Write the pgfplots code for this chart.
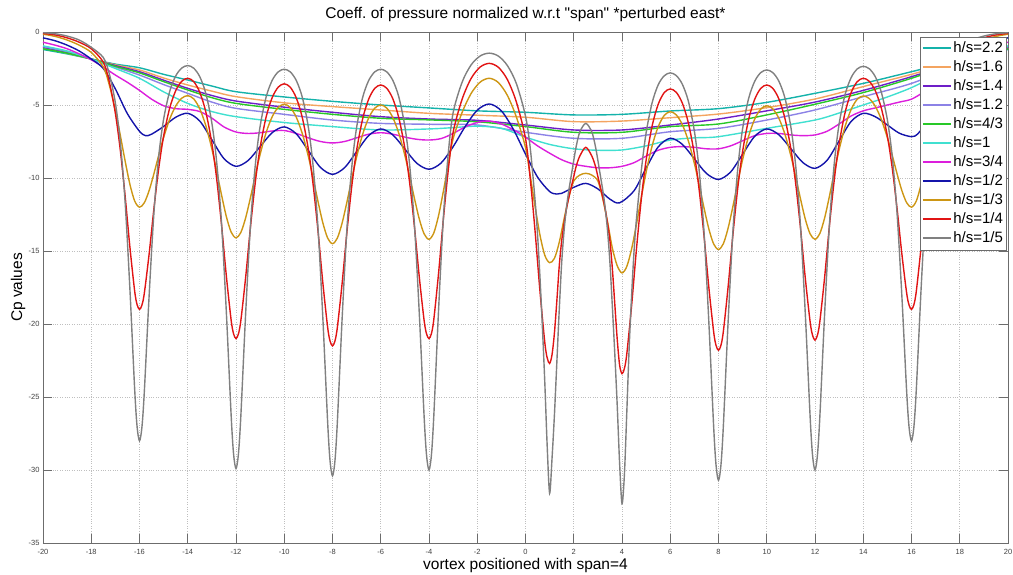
\documentclass[border=0pt]{standalone}
\usepackage{fontspec}
\setmainfont{Liberation Sans}[Ligatures=TeXOff]
\usepackage{pgfplots}
\pgfplotsset{compat=1.18}
\frenchspacing
\definecolor{hsA}{RGB}{20,178,170}
\definecolor{hsB}{RGB}{244,164,96}
\definecolor{hsC}{RGB}{110,30,200}
\definecolor{hsD}{RGB}{140,130,230}
\definecolor{hsE}{RGB}{40,200,40}
\definecolor{hsF}{RGB}{64,224,208}
\definecolor{hsG}{RGB}{220,30,220}
\definecolor{hsH}{RGB}{20,20,170}
\definecolor{hsI}{RGB}{205,150,20}
\definecolor{hsJ}{RGB}{225,20,20}
\definecolor{hsK}{RGB}{128,128,128}
\begin{document}
\begin{tikzpicture}
\useasboundingbox (-43pt,-32pt) rectangle (970pt,543pt);
\begin{axis}[
 scale only axis, width=965pt, height=511pt,
 xmin=-20, xmax=20, ymin=-35, ymax=0,
 xtick={-20,-18,...,20}, ytick={-35,-30,...,0},
 grid=major, grid style={dotted, line width=0.6pt, gray!50},
 axis line style={gray!85!black, line width=0.6pt},
 tick style={gray!85!black, line width=0.6pt},
 major tick length=9pt, tick align=inside,
 /pgf/number format/assume math mode=true,
 ticklabel style={font=\fontsize{7.5}{8}\selectfont, text=black!75},
 xticklabel style={yshift=-2.5pt},
 title={Coeff. of pressure normalized w.r.t "span" *perturbed east*},
 every axis title/.style={at={(0.5,1)}, anchor=center, yshift=18pt, font=\fontsize{15.5}{17}\selectfont},
 xlabel={vortex positioned with span=4},
 every axis x label/.style={at={(0.5,0)}, anchor=center, yshift=-22pt, font=\fontsize{15.5}{17}\selectfont},
 ylabel={Cp values},
 every axis y label/.style={at={(0,0.5)}, anchor=center, xshift=-25pt, rotate=90, font=\fontsize{15.5}{17}\selectfont},
 legend style={at={(0.9987,0.9908)}, anchor=north east, draw=gray!85!black, line width=0.6pt, fill=white, inner xsep=2pt, inner ysep=2pt, font=\fontsize{15}{17}\selectfont, row sep=0pt, nodes={inner sep=1.5pt, text height=12pt, text depth=4pt}},
 legend cell align=left,
 legend image code/.code={\draw[#1] plot coordinates {(0pt,0pt) (14pt,0pt) (28pt,0pt)};},
 legend image post style={line width=2pt},
 every axis plot/.append style={line width=1.4pt, smooth},
]
% h/s=2.2
\addplot[color=hsA] coordinates {(-20,-1.2) (-19,-1.5) (-18,-1.85) (-17,-2.2) (-16,-2.45) (-15,-2.9) (-14,-3.29) (-13,-3.7) (-12,-4.09) (-10,-4.45) (-8,-4.75) (-6,-5.0) (-4,-5.2) (-2,-5.4) (0,-5.5) (2,-5.68) (4,-5.64) (6,-5.41) (8,-5.25) (10,-4.82) (12,-4.2) (14,-3.52) (16,-2.72) (18,-1.9) (20,-1.2)};
\addlegendentry{h/s=2.2}
% h/s=1.6
\addplot[color=hsB] coordinates {(-20,-1.1) (-19,-1.45) (-18,-1.85) (-17,-2.25) (-16,-2.6) (-15,-3.15) (-14,-3.63) (-13,-4.05) (-12,-4.43) (-10,-4.85) (-8,-5.11) (-6,-5.34) (-4,-5.57) (-2,-5.7) (0,-5.84) (2,-6.14) (4,-6.1) (6,-5.87) (8,-5.62) (10,-5.18) (12,-4.59) (14,-3.74) (16,-2.9) (18,-1.95) (20,-1.1)};
\addlegendentry{h/s=1.6}
% h/s=1.4
\addplot[color=hsC] coordinates {(-20,-1.05) (-19,-1.4) (-18,-1.85) (-17,-2.3) (-16,-2.72) (-15,-3.3) (-14,-3.86) (-13,-4.35) (-12,-4.73) (-10,-5.15) (-8,-5.5) (-6,-5.8) (-4,-5.96) (-2,-6.05) (0,-6.37) (2,-6.71) (4,-6.71) (6,-6.37) (8,-5.96) (10,-5.4) (12,-4.8) (14,-4.0) (16,-3.06) (18,-2.0) (20,-1.05)};
\addlegendentry{h/s=1.4}
% h/s=1.2
\addplot[color=hsD] coordinates {(-20,-1.0) (-19,-1.35) (-18,-1.85) (-17,-2.4) (-16,-2.95) (-15,-3.6) (-14,-4.2) (-13,-4.8) (-12,-5.23) (-10,-5.64) (-8,-6.03) (-6,-6.26) (-4,-6.32) (-2,-6.37) (0,-6.87) (2,-7.28) (4,-7.28) (6,-6.83) (8,-6.6) (10,-6.03) (12,-5.34) (14,-4.43) (16,-3.52) (18,-2.2) (20,-1.0)};
\addlegendentry{h/s=1.2}
% h/s=4/3
\addplot[color=hsE] coordinates {(-20,-1.15) (-19,-1.45) (-18,-1.85) (-17,-2.35) (-16,-2.8) (-15,-3.4) (-14,-3.97) (-13,-4.5) (-12,-4.89) (-10,-5.3) (-8,-5.64) (-6,-5.91) (-4,-6.02) (-2,-6.15) (0,-6.48) (2,-6.87) (4,-6.87) (6,-6.48) (8,-6.3) (10,-5.68) (12,-4.95) (14,-4.15) (16,-3.17) (18,-2.05) (20,-1.15)};
\addlegendentry{h/s=4/3}
% h/s=1
\addplot[color=hsF] coordinates {(-20,-0.95) (-19,-1.3) (-18,-1.85) (-17,-2.5) (-16,-3.17) (-15,-4.1) (-14,-4.89) (-13,-5.45) (-12,-5.8) (-10,-6.2) (-8,-6.48) (-6,-6.71) (-4,-6.64) (-3,-6.55) (-2,-6.45) (-1,-6.6) (0,-7.2) (1,-7.7) (2,-8.0) (3,-8.1) (4,-8.08) (5,-7.8) (6,-7.4) (7,-7.25) (8,-7.17) (10,-6.6) (12,-6.03) (13,-5.55) (14,-5.0) (15,-4.45) (16,-3.81) (17,-3.0) (18,-2.3) (19,-1.6) (20,-0.95)};
\addlegendentry{h/s=1}
% h/s=3/4
\addplot[color=hsG] coordinates {(-20,-0.7) (-19.5,-0.9) (-19,-1.15) (-18.5,-1.5) (-18,-1.9) (-17.5,-2.4) (-17,-2.95) (-16.5,-3.45) (-16,-4.0) (-15.5,-4.6) (-15,-5.05) (-14.5,-5.25) (-14,-5.3) (-13.5,-5.45) (-13,-5.9) (-12.5,-6.5) (-12,-6.85) (-11.5,-6.95) (-11,-6.9) (-10.5,-6.78) (-10,-6.75) (-9.5,-6.95) (-9,-7.25) (-8.5,-7.5) (-8,-7.6) (-7.5,-7.5) (-7,-7.25) (-6.5,-7.0) (-6,-6.9) (-5.5,-7.0) (-5,-7.2) (-4.5,-7.35) (-4,-7.4) (-3.5,-7.3) (-3,-6.95) (-2.5,-6.5) (-2,-6.2) (-1.5,-6.1) (-1,-6.3) (-0.5,-6.7) (0,-7.2) (0.5,-7.8) (1,-8.3) (1.5,-8.75) (2,-9.05) (2.5,-9.2) (3,-9.3) (3.5,-9.3) (4,-9.2) (4.5,-8.95) (5,-8.5) (5.5,-8.1) (6,-7.9) (6.5,-7.85) (7,-7.9) (7.5,-8.0) (8,-8.0) (8.5,-7.8) (9,-7.45) (9.5,-7.1) (10,-6.95) (10.5,-6.95) (11,-7.05) (11.5,-7.1) (12,-7.05) (12.5,-6.8) (13,-6.3) (13.5,-5.75) (14,-5.4) (14.5,-5.2) (15,-5.0) (15.5,-4.8) (16,-4.6) (16.5,-4.1) (17,-3.3) (17.5,-2.6) (18,-2.0) (18.5,-1.5) (19,-1.15) (19.5,-0.9) (20,-0.7)};
\addlegendentry{h/s=3/4}
% h/s=1/2
\addplot[color=hsH] coordinates {(-20,-0.4) (-19.5,-0.6) (-19,-0.9) (-18.5,-1.3) (-18,-1.85) (-17.5,-2.5) (-17,-3.9) (-16.5,-5.6) (-16,-6.8) (-15.75,-7.1) (-15.5,-7.0) (-15,-6.47) (-14.5,-5.84) (-14,-5.57) (-13.5,-6.1) (-13,-7.385) (-12.5,-8.67) (-12,-9.2) (-11.5,-8.805) (-11,-7.85) (-10.5,-6.895) (-10,-6.5) (-9.5,-6.976) (-9,-8.125) (-8.5,-9.274) (-8,-9.75) (-7.5,-9.295) (-7,-8.195) (-6.5,-7.095) (-6,-6.64) (-5.5,-7.044) (-5,-8.02) (-4.5,-8.996) (-4,-9.4) (-3.5,-8.973) (-3,-7.856) (-2.5,-6.474) (-2,-5.357) (-1.5,-4.93) (-1,-5.402) (-0.5,-6.677) (0,-8.359) (0.5,-9.938) (1,-10.927) (1.3,-11.1) (1.5,-11.05) (2,-10.64) (2.5,-10.37) (3,-10.747) (3.5,-11.45) (3.9,-11.7) (4.5,-10.868) (5,-9.324) (5.5,-7.871) (6,-7.28) (6.5,-7.693) (7,-8.69) (7.5,-9.687) (8,-10.1) (8.5,-9.593) (9,-8.37) (9.5,-7.147) (10,-6.64) (10.5,-7.035) (11,-7.99) (11.5,-8.945) (12,-9.34) (12.5,-8.788) (13,-7.455) (13.5,-6.122) (14,-5.57) (14.5,-5.804) (15,-6.37) (15.5,-6.936) (16,-7.17) (16.25,-7.0) (16.5,-6.4) (17,-4.6) (17.5,-2.9) (18,-2.0) (18.5,-1.35) (19,-0.9) (19.5,-0.6) (20,-0.4)};
\addlegendentry{h/s=1/2}
% h/s=1/3
\addplot[color=hsI] coordinates {(-20,-0.15) (-19.5,-0.3) (-19,-0.55) (-18.5,-0.9) (-18,-1.4) (-17.5,-2.389) (-17.25,-3.64) (-17,-5.375) (-16.8,-7.039) (-16.6,-8.799) (-16.4,-10.414) (-16.2,-11.575) (-16,-12.0) (-15.8,-11.694) (-15.6,-10.857) (-15.4,-9.693) (-15.2,-8.424) (-15,-7.225) (-14.75,-5.974) (-14.5,-5.073) (-14.25,-4.537) (-14,-4.36) (-13.75,-4.586) (-13.5,-5.269) (-13.25,-6.418) (-13,-8.013) (-12.8,-9.542) (-12.6,-11.159) (-12.4,-12.643) (-12.2,-13.709) (-12,-14.1) (-11.8,-13.733) (-11.6,-12.731) (-11.4,-11.337) (-11.2,-9.818) (-11,-8.381) (-10.75,-6.883) (-10.5,-5.804) (-10.25,-5.162) (-10,-4.95) (-9.75,-5.172) (-9.5,-5.841) (-9.25,-6.968) (-9,-8.531) (-8.8,-10.031) (-8.6,-11.616) (-8.4,-13.071) (-8.2,-14.117) (-8,-14.5) (-7.8,-14.119) (-7.6,-13.079) (-7.4,-11.631) (-7.2,-10.054) (-7,-8.563) (-6.75,-7.007) (-6.5,-5.886) (-6.25,-5.22) (-6,-5.0) (-5.75,-5.213) (-5.5,-5.858) (-5.25,-6.944) (-5,-8.45) (-4.8,-9.894) (-4.6,-11.422) (-4.4,-12.824) (-4.2,-13.831) (-4,-14.2) (-3.8,-13.758) (-3.6,-12.55) (-3.4,-10.869) (-3.2,-9.038) (-3,-7.306) (-2.625,-5.501) (-2.25,-4.199) (-1.875,-3.426) (-1.5,-3.17) (-1.125,-3.463) (-0.75,-4.348) (-0.375,-5.839) (0,-7.906) (0.2,-9.889) (0.4,-11.986) (0.6,-13.911) (0.8,-15.294) (1,-15.8) (1.2,-15.5) (1.4,-14.4) (1.6,-12.8) (1.8,-11.3) (2,-10.2) (2.25,-9.8) (2.5,-9.68) (2.75,-9.8) (3,-10.2) (3.2,-11.4) (3.4,-13.0) (3.6,-14.8) (3.8,-16.0) (4,-16.5) (4.2,-16.057) (4.4,-14.848) (4.6,-13.166) (4.8,-11.333) (5,-9.6) (5.25,-7.793) (5.5,-6.49) (5.75,-5.716) (6,-5.46) (6.25,-5.679) (6.5,-6.341) (6.75,-7.455) (7,-9.0) (7.2,-10.482) (7.4,-12.049) (7.6,-13.488) (7.8,-14.521) (8,-14.9) (8.2,-14.505) (8.4,-13.426) (8.6,-11.925) (8.8,-10.29) (9,-8.744) (9.25,-7.131) (9.5,-5.969) (9.75,-5.279) (10,-5.05) (10.25,-5.262) (10.5,-5.904) (10.75,-6.983) (11,-8.481) (11.2,-9.918) (11.4,-11.437) (11.6,-12.831) (11.8,-13.833) (12,-14.2) (12.2,-13.806) (12.4,-12.731) (12.6,-11.234) (12.8,-9.604) (13,-8.063) (13.25,-6.455) (13.5,-5.296) (13.75,-4.608) (14,-4.38) (14.25,-4.557) (14.5,-5.091) (14.75,-5.99) (15,-7.238) (15.2,-8.434) (15.4,-9.699) (15.6,-10.86) (15.8,-11.694) (16,-12.0) (16.2,-11.575) (16.4,-10.414) (16.6,-8.799) (16.8,-7.039) (17,-5.375) (17.25,-3.64) (17.5,-2.389) (18,-1.4) (18.5,-0.9) (19,-0.55) (19.5,-0.3) (20,-0.15)};
\addlegendentry{h/s=1/3}
% h/s=1/4
\addplot[color=hsJ] coordinates {(-20,-0.1) (-19.5,-0.2) (-19,-0.4) (-18.5,-0.7) (-18,-1.15) (-17.5,-2.068) (-17.25,-3.42) (-17,-5.575) (-16.8,-8.029) (-16.6,-11.163) (-16.4,-14.695) (-16.2,-17.747) (-16.1,-18.674) (-16,-19.0) (-15.9,-18.712) (-15.8,-17.892) (-15.6,-15.193) (-15.4,-12.07) (-15.2,-9.298) (-15,-7.128) (-14.75,-5.222) (-14.5,-4.026) (-14.25,-3.376) (-14,-3.17) (-13.75,-3.402) (-13.5,-4.135) (-13.25,-5.481) (-13,-7.628) (-12.8,-10.072) (-12.6,-13.194) (-12.4,-16.712) (-12.2,-19.752) (-12.1,-20.675) (-12,-21.0) (-11.9,-20.682) (-11.8,-19.779) (-11.6,-16.803) (-11.4,-13.36) (-11.2,-10.305) (-11,-7.913) (-10.75,-5.812) (-10.5,-4.494) (-10.25,-3.777) (-10,-3.55) (-9.75,-3.783) (-9.5,-4.521) (-9.25,-5.876) (-9,-8.038) (-8.8,-10.498) (-8.6,-13.641) (-8.4,-17.183) (-8.2,-20.244) (-8.1,-21.173) (-8,-21.5) (-7.9,-21.175) (-7.8,-20.249) (-7.6,-17.202) (-7.4,-13.677) (-7.2,-10.548) (-7,-8.098) (-6.75,-5.946) (-6.5,-4.597) (-6.25,-3.862) (-6,-3.63) (-5.75,-3.856) (-5.5,-4.57) (-5.25,-5.881) (-5,-7.973) (-4.8,-10.354) (-4.6,-13.395) (-4.4,-16.822) (-4.2,-19.784) (-4.1,-20.684) (-4,-21.0) (-3.9,-20.657) (-3.8,-19.681) (-3.6,-16.467) (-3.4,-12.747) (-3.2,-9.447) (-3,-6.863) (-2.625,-4.593) (-2.25,-3.17) (-1.875,-2.395) (-1.5,-2.15) (-1.125,-2.417) (-0.75,-3.262) (-0.375,-4.813) (0,-7.288) (0.2,-10.105) (0.4,-13.703) (0.6,-17.758) (0.8,-21.262) (0.9,-22.326) (1,-22.7) (1.1,-22.1) (1.2,-20.6) (1.3,-18.4) (1.4,-16.0) (1.5,-14.3) (1.6,-13.1) (1.7,-12.1) (1.8,-11.3) (1.9,-10.6) (2,-9.9) (2.1,-9.2) (2.25,-8.5) (2.5,-7.9) (2.75,-8.5) (2.9,-9.2) (3,-9.9) (3.1,-10.6) (3.2,-11.3) (3.3,-12.1) (3.4,-13.1) (3.5,-14.3) (3.6,-16.2) (3.7,-18.6) (3.8,-21.0) (3.9,-22.8) (4,-23.4) (4.1,-23.045) (4.2,-22.035) (4.4,-18.71) (4.6,-14.863) (4.8,-11.448) (5,-8.775) (5.25,-6.427) (5.5,-4.955) (5.75,-4.154) (6,-3.9) (6.25,-4.133) (6.5,-4.868) (6.75,-6.22) (7,-8.375) (7.2,-10.829) (7.4,-13.963) (7.6,-17.495) (7.8,-20.547) (7.9,-21.474) (8,-21.8) (8.1,-21.469) (8.2,-20.528) (8.4,-17.43) (8.6,-13.845) (8.8,-10.664) (9,-8.173) (9.25,-5.985) (9.5,-4.613) (9.75,-3.866) (10,-3.63) (10.25,-3.857) (10.5,-4.575) (10.75,-5.894) (11,-7.998) (11.2,-10.393) (11.4,-13.452) (11.6,-16.898) (11.8,-19.877) (11.9,-20.782) (12,-21.1) (12.1,-20.773) (12.2,-19.845) (12.4,-16.788) (12.6,-13.25) (12.8,-10.111) (13,-7.653) (13.25,-5.494) (13.5,-4.14) (13.75,-3.403) (14,-3.17) (14.25,-3.376) (14.5,-4.026) (14.75,-5.222) (15,-7.128) (15.2,-9.298) (15.4,-12.07) (15.6,-15.193) (15.8,-17.892) (15.9,-18.712) (16,-19.0) (16.1,-18.674) (16.2,-17.747) (16.4,-14.695) (16.6,-11.163) (16.8,-8.029) (17,-5.575) (17.25,-3.42) (17.5,-2.068) (18,-1.15) (18.5,-0.7) (19,-0.4) (19.5,-0.2) (20,-0.1)};
\addlegendentry{h/s=1/4}
% h/s=1/5
\addplot[color=hsK] coordinates {(-20,-0.05) (-19.5,-0.12) (-19,-0.28) (-18.5,-0.55) (-18,-1.05) (-17.5,-1.751) (-17.25,-2.871) (-17,-4.858) (-16.8,-7.48) (-16.6,-11.557) (-16.4,-17.529) (-16.2,-24.468) (-16.1,-27.033) (-16,-28.0) (-15.9,-27.08) (-15.8,-24.638) (-15.6,-18.034) (-15.4,-12.349) (-15.2,-8.468) (-15,-5.973) (-14.75,-4.081) (-14.5,-3.014) (-14.25,-2.47) (-14,-2.3) (-13.75,-2.482) (-13.5,-3.067) (-13.25,-4.213) (-13,-6.244) (-12.8,-8.924) (-12.6,-13.092) (-12.4,-19.197) (-12.2,-26.29) (-12.1,-28.912) (-12,-29.9) (-11.9,-28.921) (-11.8,-26.323) (-11.6,-19.294) (-11.4,-13.244) (-11.2,-9.114) (-11,-6.458) (-10.75,-4.445) (-10.5,-3.31) (-10.25,-2.731) (-10,-2.55) (-9.75,-2.734) (-9.5,-3.324) (-9.25,-4.48) (-9,-6.53) (-8.8,-9.234) (-8.6,-13.439) (-8.4,-19.6) (-8.2,-26.757) (-8.1,-29.403) (-8,-30.4) (-7.9,-29.403) (-7.8,-26.757) (-7.6,-19.6) (-7.4,-13.439) (-7.2,-9.234) (-7,-6.53) (-6.75,-4.48) (-6.5,-3.324) (-6.25,-2.734) (-6,-2.55) (-5.75,-2.731) (-5.5,-3.313) (-5.25,-4.452) (-5,-6.473) (-4.8,-9.138) (-4.6,-13.283) (-4.4,-19.355) (-4.2,-26.41) (-4.1,-29.017) (-4,-30.0) (-3.9,-28.978) (-3.8,-26.266) (-3.6,-18.928) (-3.4,-12.613) (-3.2,-8.302) (-3,-5.53) (-2.625,-3.429) (-2.25,-2.244) (-1.875,-1.638) (-1.5,-1.45) (-1.125,-1.65) (-0.75,-2.3) (-0.375,-3.55) (0,-5.76) (0.2,-8.0) (0.4,-11.6) (0.5,-13.9) (0.6,-16.8) (0.7,-20.2) (0.8,-24.0) (0.9,-28.4) (1,-31.6) (1.1,-29.2) (1.2,-26.2) (1.3,-22.6) (1.4,-19.0) (1.5,-15.8) (1.6,-13.6) (1.7,-12.0) (1.8,-10.8) (1.9,-9.8) (2,-8.8) (2.1,-7.85) (2.25,-6.85) (2.5,-6.26) (2.75,-6.85) (2.9,-7.85) (3,-8.8) (3.1,-9.8) (3.2,-10.8) (3.3,-12.0) (3.4,-13.6) (3.5,-15.8) (3.6,-18.8) (3.7,-22.0) (3.8,-25.5) (3.9,-29.5) (4,-32.3) (4.1,-30.3) (4.2,-26.0) (4.3,-21.5) (4.4,-18.0) (4.5,-15.0) (4.6,-12.8) (4.8,-9.5) (5,-6.9) (5.25,-4.84) (5.5,-3.62) (5.75,-3.0) (6,-2.8) (6.25,-2.984) (6.5,-3.576) (6.75,-4.733) (7,-6.787) (7.2,-9.496) (7.4,-13.709) (7.6,-19.88) (7.8,-27.051) (7.9,-29.701) (8,-30.7) (8.1,-29.694) (8.2,-27.025) (8.4,-19.803) (8.6,-13.587) (8.8,-9.344) (9,-6.615) (9.25,-4.547) (9.5,-3.381) (9.75,-2.785) (10,-2.6) (10.25,-2.781) (10.5,-3.362) (10.75,-4.499) (11,-6.515) (11.2,-9.176) (11.4,-13.313) (11.6,-19.374) (11.8,-26.416) (11.9,-29.019) (12,-30.0) (12.1,-29.01) (12.2,-26.383) (12.4,-19.277) (12.6,-13.161) (12.8,-8.986) (13,-6.301) (13.25,-4.266) (13.5,-3.119) (13.75,-2.532) (14,-2.35) (14.25,-2.519) (14.5,-3.063) (14.75,-4.128) (15,-6.015) (15.2,-8.506) (15.4,-12.379) (15.6,-18.053) (15.8,-24.645) (15.9,-27.082) (16,-28.0) (16.1,-27.033) (16.2,-24.468) (16.4,-17.529) (16.6,-11.557) (16.8,-7.48) (17,-4.858) (17.25,-2.871) (17.5,-1.751) (18,-1.05) (18.5,-0.55) (19,-0.28) (19.5,-0.12) (20,-0.05)};
\addlegendentry{h/s=1/5}
\end{axis}
\end{tikzpicture}
\end{document}
